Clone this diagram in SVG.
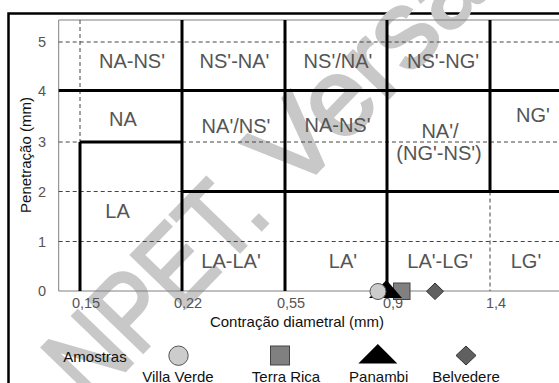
<svg xmlns="http://www.w3.org/2000/svg" width="559" height="383" viewBox="0 0 559 383">
<style>
text{font-family:"Liberation Sans",Arial,sans-serif}
.reg{font-size:20px;fill:#555;text-anchor:middle}
.tick{font-size:14.5px;fill:#555}
.ttl{font-size:15px;fill:#111}
.leg{font-size:15px;fill:#111;text-anchor:middle}
.wm{font-size:110px;fill:#c8c8c8;stroke:#c8c8c8;stroke-width:3}
.thick{stroke:#000;stroke-width:3;fill:none}
.dash{stroke:#444;stroke-width:1;stroke-dasharray:4 3;fill:none}
.thin{stroke:#808080;stroke-width:1;fill:none}
</style>
<rect x="0" y="0" width="559" height="383" fill="#fff"/>
<rect x="8.5" y="13.5" width="560" height="380" fill="#fff" stroke="#000" stroke-width="2.5"/>
<g id="watermark" transform="translate(261,222) rotate(-46)">
<text class="wm" x="-250" y="5.5" textLength="262" lengthAdjust="spacingAndGlyphs">NPET.</text>
<text class="wm" x="42" y="5.5">Versão</text>
</g>
<g id="grid">
<path class="thin" d="M58.7 20H560M58.7 20V291M58.7 291H560"/>
<path class="dash" d="M58.7 42H560M58.7 142H80M182 142H560M58.7 191.5H182M58.7 241.5H560M80 20V142M490 191.5V291"/>
</g>
<g id="connectors">
<path class="thick" d="M58.7 90.5H560M182 191.5H560M80 142H182M80 142V291M182 20V291M285 20V291M387 20V291M490 20V191.5"/>
</g>
<g id="axes">
<text class="tick" x="46" y="46.5" text-anchor="end">5</text>
<text class="tick" x="46" y="95.5" text-anchor="end">4</text>
<text class="tick" x="46" y="147" text-anchor="end">3</text>
<text class="tick" x="46" y="196.5" text-anchor="end">2</text>
<text class="tick" x="46" y="246.5" text-anchor="end">1</text>
<text class="tick" x="46" y="296" text-anchor="end">0</text>
<text class="tick" x="86" y="308" text-anchor="middle">0,15</text>
<text class="tick" x="188" y="308" text-anchor="middle">0,22</text>
<text class="tick" x="291" y="308" text-anchor="middle">0,55</text>
<text class="tick" x="393" y="308" text-anchor="middle">0,9</text>
<text class="tick" x="496" y="308" text-anchor="middle">1,4</text>
<text class="ttl" x="297" y="327" text-anchor="middle">Contração diametral (mm)</text>
<text class="ttl" x="0" y="0" text-anchor="middle" transform="translate(31,155) rotate(-90)">Penetração (mm)</text>
</g>
<g id="regions">
<text class="reg" x="132" y="68">NA-NS'</text>
<text class="reg" x="234.5" y="68">NS'-NA'</text>
<text class="reg" x="338" y="68">NS'/NA'</text>
<text class="reg" x="443" y="68">NS'-NG'</text>
<text class="reg" x="123" y="126">NA</text>
<text class="reg" x="236" y="133">NA'/NS'</text>
<text class="reg" x="337.5" y="131.5">NA-NS'</text>
<text class="reg" x="440" y="138">NA'/</text>
<text class="reg" x="439" y="160">(NG'-NS')</text>
<text class="reg" x="533" y="121.5">NG'</text>
<text class="reg" x="117.5" y="218">LA</text>
<text class="reg" x="231" y="268">LA-LA'</text>
<text class="reg" x="343" y="268">LA'</text>
<text class="reg" x="440" y="268">LA'-LG'</text>
<text class="reg" x="526" y="268">LG'</text>
</g>
<g id="data">
<rect x="393.5" y="283" width="16.5" height="16.5" fill="#808080" stroke="#444" stroke-width="1"/>
<polygon points="369,298 386.5,280 402,298" fill="#000"/>
<circle cx="378" cy="291.5" r="8" fill="#ccc" stroke="#555" stroke-width="1"/>
<polygon points="435,283 443.5,291.3 435,299.5 426.5,291.3" fill="#606060" stroke="#333" stroke-width="1"/>
</g>
<g id="legend">
<text class="leg" x="95" y="362">Amostras</text>
<g id="leg-villa"><circle cx="178.5" cy="355.7" r="9.7" fill="#ccc" stroke="#555" stroke-width="1"/><text class="leg" x="178" y="381.5">Villa Verde</text></g>
<g id="leg-terra"><rect x="270.5" y="346" width="19" height="19" fill="#808080" stroke="#444" stroke-width="1"/><text class="leg" x="286" y="381.5">Terra Rica</text></g>
<g id="leg-panambi"><polygon points="358.3,363.5 377.8,344 397.3,363.5" fill="#000"/><text class="leg" x="378.7" y="381.5">Panambi</text></g>
<g id="leg-belvedere"><polygon points="466,346 476,355.5 466,365 456,355.5" fill="#606060" stroke="#333" stroke-width="1"/><text class="leg" x="466" y="381.5">Belvedere</text></g>
</g>
</svg>
